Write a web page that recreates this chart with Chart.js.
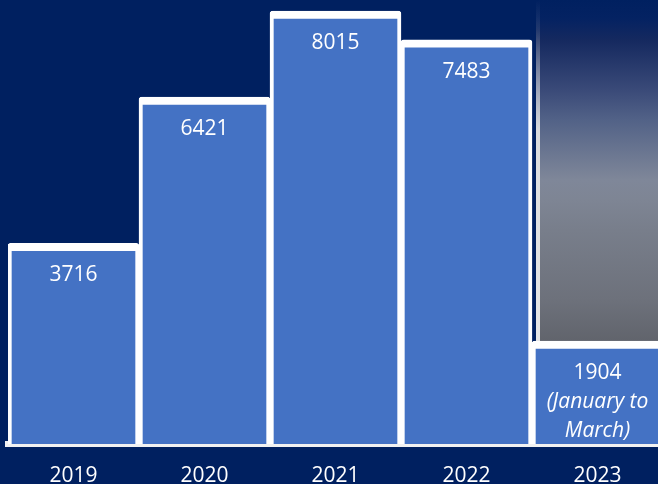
<!DOCTYPE html>
<html>
<head>
<meta charset="utf-8">
<script src="https://cdn.jsdelivr.net/npm/chart.js@4/dist/chart.umd.min.js"></script>
<style>
  html, body { margin: 0; padding: 0; background: #002060; overflow: hidden; }
  #wrap { width: 664px; height: 484px; }
</style>
</head>
<body>
<div id="wrap"><canvas id="c" width="664" height="484"></canvas></div>
<script>
const categories = ['2019', '2020', '2021', '2022', '2023'];
const values = [3716, 6421, 8015, 7483, 1904];
const notes = ['', '', '', '', '(January to\nMarch)'];

const FONT = '"Open Sans", "Liberation Sans", sans-serif';

const backdropPlugin = {
  id: 'backdrop',
  beforeDatasetsDraw(chart) {
    const el = chart.getDatasetMeta(0).data[4];
    if (!el) return;
    const ctx = chart.ctx;
    const left = el.x - el.width / 2 + 4;
    const bottom = el.y;
    const g = ctx.createLinearGradient(0, 0, 0, bottom);
    const s = v => Math.min(1, v / bottom);
    g.addColorStop(0, '#002060');
    g.addColorStop(s(18), '#042262');
    g.addColorStop(s(40), '#15295f');
    g.addColorStop(s(90), '#3a4a78');
    g.addColorStop(s(120), '#526287');
    g.addColorStop(s(180), '#7f8799');
    g.addColorStop(s(200), '#7e8594');
    g.addColorStop(s(230), '#787e8b');
    g.addColorStop(s(300), '#6d717b');
    g.addColorStop(1, '#61646c');
    ctx.save();
    ctx.fillStyle = g;
    ctx.fillRect(left, 0, chart.width - left, bottom);
    const g2 = ctx.createLinearGradient(0, 0, 0, bottom);
    g2.addColorStop(0, 'rgba(230,230,230,0)');
    g2.addColorStop(s(30), 'rgba(230,230,230,0.1)');
    g2.addColorStop(s(130), 'rgba(230,230,230,0.9)');
    g2.addColorStop(1, 'rgba(230,230,230,1)');
    ctx.fillStyle = g2;
    ctx.fillRect(left, 0, 4, bottom);
    ctx.restore();
  }
};

const labelPlugin = {
  id: 'valueLabels',
  afterDatasetsDraw(chart) {
    const ctx = chart.ctx;
    const meta = chart.getDatasetMeta(0);
    ctx.save();
    ctx.fillStyle = '#ffffff';
    ctx.textAlign = 'center';
    ctx.textBaseline = 'middle';
    meta.data.forEach((el, i) => {
      ctx.font = '21px ' + FONT;
      ctx.fillText(String(values[i]), el.x, el.y + 32);
      if (notes[i]) {
        ctx.font = 'italic 21px ' + FONT;
        notes[i].split('\n').forEach((line, j) => {
          ctx.fillText(line, el.x, el.y + 61 + j * 28.5);
        });
      }
    });
    ctx.restore();
  }
};

new Chart(document.getElementById('c'), {
  type: 'bar',
  data: {
    labels: categories,
    datasets: [{
      data: values,
      backgroundColor: '#4472C4',
      borderColor: '#ffffff',
      borderWidth: { top: 8, left: 4, right: 4, bottom: 0 },
      borderSkipped: 'start',
      borderRadius: { topLeft: 3, topRight: 3, bottomLeft: 0, bottomRight: 0 },
      categoryPercentage: 1,
      barPercentage: 1
    }]
  },
  options: {
    responsive: false,
    animation: false,
    layout: { padding: { left: 8, right: 1, top: 0, bottom: 0 } },
    plugins: { legend: { display: false }, tooltip: { enabled: false } },
    scales: {
      x: {
        z: 1,
        grid: { display: false },
        border: { display: true, color: '#f2f2f2', width: 6 },
        ticks: {
          color: '#ffffff',
          padding: 14,
          font: { family: FONT, size: 21, lineHeight: 1 }
        },
        afterFit(scale) { scale.height = 40; }
      },
      y: {
        display: false,
        min: 0,
        max: 8218
      }
    }
  },
  plugins: [backdropPlugin, labelPlugin]
});
</script>
</body>
</html>
